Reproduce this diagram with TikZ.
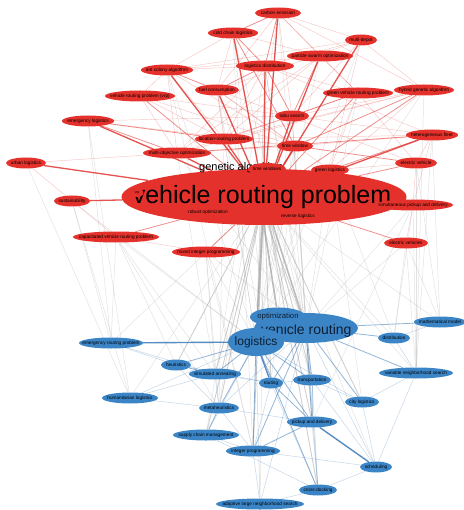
\documentclass[tikz,border=0pt]{standalone}
\usepackage{fontspec}
\setmainfont{Liberation Sans}
\usetikzlibrary{shapes.geometric}
\pgfdeclarelayer{bg}
\pgfsetlayers{bg,main}
\definecolor{nred}{HTML}{E5312B}
\definecolor{nblue}{HTML}{3B85C7}
\definecolor{ered}{HTML}{E03530}
\definecolor{eblue}{HTML}{3A78B8}
\definecolor{egray}{HTML}{A0A0A0}
\definecolor{navy}{HTML}{0D1F33}
\tikzset{
  basen/.style={ellipse, inner xsep=-40pt, inner ysep=-20pt, minimum height=11pt,
    font=\fontsize{4.7}{5}\selectfont, text=black},
  rn/.style={basen, fill=nred},
  bn/.style={basen, fill=nblue},
  lbl/.style={inner sep=0pt, text=black},
  r1/.style={draw=ered, opacity=.28, line width=.45pt},
  r2/.style={draw=ered, opacity=.55, line width=.8pt},
  r3/.style={draw=ered, opacity=.85, line width=1.3pt},
  g1/.style={draw=egray, opacity=.3, line width=.5pt},
  g2/.style={draw=egray, opacity=.5, line width=.9pt},
  g3/.style={draw=egray, opacity=.7, line width=1.6pt},
  b1/.style={draw=eblue, opacity=.3, line width=.5pt},
  b2/.style={draw=eblue, opacity=.55, line width=.8pt},
  b3/.style={draw=eblue, opacity=.85, line width=1.4pt},
}
\begin{document}
\begin{tikzpicture}[x=1pt,y=-1pt]
\useasboundingbox (0,0) rectangle (463,510);
% ---------- red cluster ----------
\node[rn, minimum width=285pt, minimum height=56pt] (vrpbig) at (264,197) {};
\node[lbl, anchor=base, font=\fontsize{25}{26}\selectfont] (vrptext) at (262,204) {vehicle routing problem};
\node[lbl, anchor=base west, font=\fontsize{11}{12}\selectfont] (ga) at (199,171) {genetic algorithm};
\node[rn, minimum width=38pt, minimum height=12pt] (tws) at (267,169) {time windows};
\node[rn, minimum width=13pt, minimum height=8pt, font=\fontsize{3.5}{4}\selectfont] (vrp) at (137,193) {vrp};
\node[lbl, font=\fontsize{4.7}{5}\selectfont] (ro) at (208,212) {robust optimization};
\node[lbl, font=\fontsize{4.7}{5}\selectfont] (rl) at (298,216) {reverse logistics};
\node[rn, minimum width=46pt] (ce) at (278,13) {carbon emission};
\node[rn, minimum width=50pt] (ccl) at (233,33) {cold chain logistics};
\node[rn, minimum width=32pt] (md) at (361,40) {multi-depot};
\node[rn, minimum width=58pt] (ld) at (265,66) {logistics distribution};
\node[rn, minimum width=52pt] (aca) at (167,70) {ant colony algorithm};
\node[rn, minimum width=66pt] (pso) at (320,56) {particle swarm optimization};
\node[rn, minimum width=44pt] (fc) at (217,90) {fuel consumption};
\node[rn, minimum width=70pt] (vrps) at (140,96) {vehicle routing problem (vrp)};
\node[rn, minimum width=60pt] (hga) at (424,90) {hybrid genetic algorithm};
\node[rn, minimum width=70pt] (gvrp) at (358,93) {green vehicle routing problem};
\node[rn, minimum width=34pt] (ts) at (292,116) {tabu search};
\node[rn, minimum width=52pt] (el) at (88,121) {emergency logistics};
\node[rn, minimum width=58pt] (lrp) at (224,139) {location-routing problem};
\node[rn, minimum width=52pt] (hf) at (432,135) {heterogeneous fleet};
\node[rn, minimum width=36pt] (tw) at (295,146) {time window};
\node[rn, minimum width=68pt] (moo) at (177,153) {multi-objective optimization};
\node[rn, minimum width=42pt] (ev) at (416,163) {electric vehicle};
\node[rn, minimum width=40pt] (ul) at (26,163) {urban logistics};
\node[rn, minimum width=38pt] (gl) at (330,170) {green logistics};
\node[rn, minimum width=36pt] (sus) at (72,201) {sustainability};
\node[rn, minimum width=80pt] (spd) at (413,205) {simultaneous pickup and delivery};
\node[rn, minimum width=86pt] (cvrp) at (116,237) {capacitated vehicle routing problem};
\node[rn, minimum width=44pt] (evs) at (406,243) {electric vehicles};
\node[rn, minimum width=68pt] (mip) at (206,252) {mixed integer programming};
% ---------- blue cluster ----------
\node[bn, minimum width=104pt, minimum height=30pt] (bvr) at (306,328) {};
\node[lbl, anchor=base west, text=navy, font=\fontsize{14}{15}\selectfont] (bvrtext) at (261,334) {vehicle routing};
\node[bn, minimum width=56pt, minimum height=19pt, text=navy, font=\fontsize{7.7}{8}\selectfont] (opt) at (278,317) {optimization};
\node[bn, minimum width=56pt, minimum height=28pt, text=navy, font=\fontsize{12}{13}\selectfont] (log) at (256,342) {logistics};
\node[bn, minimum width=52pt] (mm) at (440,322) {mathematical model};
\node[bn, minimum width=64pt] (erp) at (111,343) {emergency routing problem};
\node[bn, minimum width=32pt] (dist) at (394,338) {distribution};
\node[bn, minimum width=30pt] (heu) at (176,365) {heuristics};
\node[bn, minimum width=52pt] (sa) at (215,374) {simulated annealing};
\node[bn, minimum width=74pt] (vns) at (416,373) {variable neighborhood search};
\node[bn, minimum width=24pt] (rout) at (271,383) {routing};
\node[bn, minimum width=38pt] (trans) at (312,380) {transportation};
\node[bn, minimum width=56pt] (hl) at (130,398) {humanitarian logistics};
\node[bn, minimum width=34pt] (cl) at (362,402) {city logistics};
\node[bn, minimum width=40pt] (meta) at (219,408) {metaheuristics};
\node[bn, minimum width=50pt] (pd) at (312,422) {pickup and delivery};
\node[bn, minimum width=66pt] (scm) at (206,435) {supply chain management};
\node[bn, minimum width=54pt] (ip) at (253,451) {integer programming};
\node[bn, minimum width=32pt] (sch) at (376,467) {scheduling};
\node[bn, minimum width=38pt] (cd) at (318,490) {cross-docking};
\node[bn, minimum width=88pt] (alns) at (260,504) {adaptive large neighborhood search};
% ---------- edges ----------
\begin{pgfonlayer}{bg}
\foreach \a/\b in {vrpbig/alns, vrpbig/sch, vrpbig/hl, vrpbig/erp, vrpbig/vns, vrpbig/dist, vrpbig/mm,
  cvrp/heu, cvrp/sa, mip/ip, mip/sa, mip/meta, evs/mm, evs/vns, evs/dist, spd/pd, spd/dist, spd/vns,
  ev/mm, hf/mm, sus/hl, sus/erp, el/erp, el/hl, gl/cl, ul/hl, cvrp/erp, mip/bvr, ev/vns, hf/vns,
  cvrp/log, sus/log, evs/bvr, spd/bvr, mip/log, gl/dist, tw/bvr, ts/log, gvrp/bvr, lrp/log, moo/bvr,
  gl/bvr, fc/rout, ld/trans, lrp/meta, moo/sa, hga/vns, cvrp/meta,
  ce/log, ccl/bvr, ld/log, ld/bvr, ts/bvr, tw/log, lrp/bvr, fc/log, ccl/rout, ce/pd, md/log, aca/log,
  pso/log, ld/ip, tw/rout, ts/pd, gvrp/log, hga/log, ccl/ip, ce/meta, fc/trans, aca/ip, ld/scm, ts/cd}
  \draw[g1] (\a) -- (\b);
\foreach \a/\b in {vrpbig/rout, vrpbig/trans, vrpbig/pd, vrpbig/ip, vrpbig/meta, vrpbig/heu, vrpbig/sa,
  vrpbig/cd, vrpbig/scm, vrpbig/cl}
  \draw[g2] (\a) -- (\b);
\draw[g3] (vrpbig) -- (bvr);
\draw[g3] (vrpbig) -- (log);
\draw[g3] (vrpbig.south) -- (opt);
\draw[g2] (vrptext.south) -- (log);
\draw[g2] (vrptext.south) -- (bvr);
\foreach \a/\b in {ce/md, ce/hga, ce/gvrp, ce/fc, ce/pso, ccl/fc, ccl/pso, ccl/aca, aca/pso, aca/ld,
  aca/lrp, aca/moo, aca/tw, md/hga, md/aca, md/ld, md/ts, md/fc, pso/gvrp, pso/lrp, gvrp/hga, gvrp/gl,
  gvrp/ev, gvrp/lrp, hga/ts, hga/lrp, hga/moo, ld/gvrp, ld/hf, ld/lrp, ld/moo, fc/gl, fc/tw, fc/ev,
  fc/lrp, hf/ev, hf/tw, hf/lrp, hf/ts, ev/spd, ev/gl, tw/lrp, tw/moo, ts/lrp, ts/moo, vrps/lrp,
  vrps/moo, vrps/ts, vrps/tw, vrps/aca, el/tw, el/ts, ul/sus, ul/moo, sus/cvrp, cvrp/mip, evs/spd,
  hf/spd, hga/gl, ce/ts, md/gl, pso/moo}
  \draw[r1] (\a) -- (\b);
\foreach \a/\b in {cvrp/vrpbig, mip/vrpbig, evs/vrpbig, spd/vrpbig, ev/vrpbig, gl/vrpbig, gvrp/vrpbig,
  hga/vrpbig, vrps/vrpbig, ce/ccl, ce/ld, ccl/ld, ld/ts, gvrp/ts, el/moo, el/lrp, hf/gl, hf/moo,
  aca/fc, pso/ts, ld/fc, hga/tw, ev/tw, ccl/tw}
  \draw[r2] (\a) -- (\b);
\foreach \a/\b in {ccl/vrpbig, ce/vrpbig, ld/vrpbig, aca/vrpbig, el/vrpbig, ul/vrpbig, sus/vrpbig,
  hf/vrpbig, tw/vrpbig, ts/vrpbig, md/vrpbig, pso/vrpbig, fc/vrpbig, lrp/vrpbig, moo/vrpbig}
  \draw[r3] (\a) -- (\b);
\foreach \a/\b in {log/hl, log/scm, log/cl, bvr/sch, bvr/cd, bvr/meta, heu/meta, sa/meta, meta/ip,
  scm/ip, ip/alns, pd/cd, rout/trans, trans/cl, cl/sch, dist/vns, vns/cl, cd/sch, alns/cd, hl/meta,
  erp/heu, trans/pd, rout/ip, trans/sch, hl/sa, erp/sa, rout/cd, trans/cd, meta/pd, scm/cd, ip/sch,
  sa/rout, heu/rout, dist/mm, vns/sch, alns/log, alns/bvr}
  \draw[b1] (\a) -- (\b);
\foreach \a/\b in {log/heu, log/sa, log/meta, log/trans, log/pd, bvr/dist, bvr/trans, bvr/pd, bvr/cl,
  bvr/rout, bvr/ip, rout/pd, heu/sa, meta/scm, ip/pd, bvr/vns, bvr/mm, log/ip, log/cd}
  \draw[b2] (\a) -- (\b);
\foreach \a/\b in {bvr/log, log/rout, bvr/opt, log/opt, pd/sch, log/erp}
  \draw[b3] (\a) -- (\b);
\end{pgfonlayer}
\end{tikzpicture}
\end{document}
